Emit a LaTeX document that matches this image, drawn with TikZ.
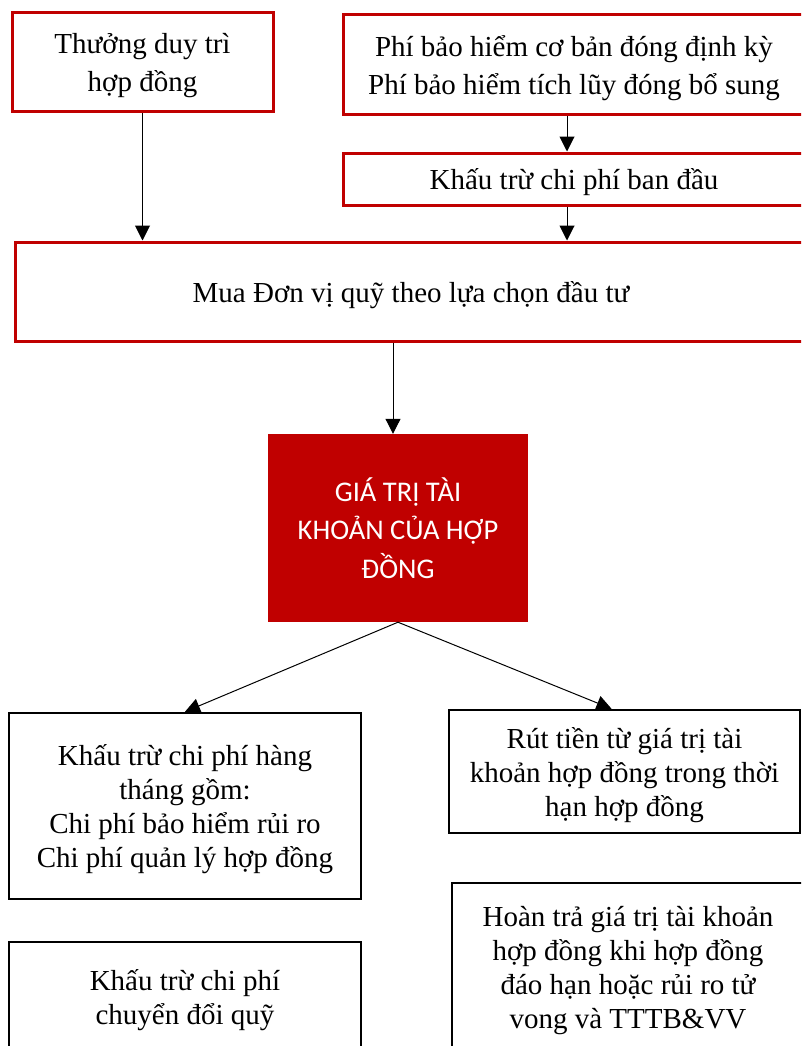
\documentclass[tikz,border=0pt]{standalone}
\usepackage{fontspec}
\setmainfont{Liberation Serif}
\newfontfamily\calibrifont{Carlito}
\usepackage{tikz}
\usetikzlibrary{positioning, arrows.meta}
\usepackage{xcolor}
\definecolor{boxred}{HTML}{C00000}

\begin{document}
\begin{tikzpicture}[
    x=1pt, y=-1pt,
    every node/.style={rectangle,inner sep=0pt,align=center,text depth=0pt,font=\fontsize{29}{37.5}\selectfont},
    redbox/.style={draw=boxred,line width=3pt},
    blackbox/.style={draw=black,line width=2.5pt,font=\fontsize{29}{34}\selectfont},
    acctbox/.style={fill=boxred,text=white,font=\calibrifont\fontsize{28.5}{38.5}\selectfont},
    arr/.style={-{Triangle[length=15pt,width=15pt]},line width=1pt}
]
\useasboundingbox (0,0) rectangle (801,1046);
\clip (0,0) rectangle (801,1046);

% =============================
% 0. Inputs (red boxes)
% =============================
\node[redbox,minimum width=261pt,minimum height=99pt] (bonus) at (142.5,62.5) {Thưởng duy trì\\hợp đồng};
\node[redbox,minimum width=462pt,minimum height=100pt] (premium) at (574,65) {Phí bảo hiểm cơ bản đóng định kỳ\\Phí bảo hiểm tích lũy đóng bổ sung};
\node[redbox,minimum width=462pt,minimum height=52pt] (initfee) at (574,179) {Khấu trừ chi phí ban đầu};
\node[redbox,minimum width=792pt,minimum height=99pt] (units) at (411,291.5) {Mua Đơn vị quỹ theo lựa chọn đầu tư};

\draw[arr] (bonus.south) -- (bonus.south |- units.north);
\draw[arr] ([xshift=-7pt]premium.south) -- ([xshift=-7pt]initfee.north);
\draw[arr] ([xshift=-7pt]initfee.south) -- ([xshift=-7pt]initfee.south |- units.north);

% =============================
% 1. Account value
% =============================
\node[acctbox,minimum width=260pt,minimum height=188pt] (account) at (398,528) {GIÁ TRỊ TÀI\\KHOẢN CỦA HỢP\\ĐỒNG};

\draw[arr] ([xshift=-5pt]account.north |- units.south) -- ([xshift=-5pt]account.north);

% =============================
% 2. Outputs (black boxes)
% =============================
\node[blackbox,minimum width=352pt,minimum height=186pt] (monthly) at (185,806) {Khấu trừ chi phí hàng\\tháng gồm:\\Chi phí bảo hiểm rủi ro\\Chi phí quản lý hợp đồng};
\node[blackbox,minimum width=351pt,minimum height=123pt] (withdraw) at (624.5,771.5) {Rút tiền từ giá trị tài\\khoản hợp đồng trong thời\\hạn hợp đồng};
\node[blackbox,minimum width=352pt,minimum height=109pt] (switchfee) at (185,996.5) {Khấu trừ chi phí\\chuyển đổi quỹ};
\node[blackbox,minimum width=352pt,minimum height=168pt] (refund) at (628,967) {Hoàn trả giá trị tài khoản\\hợp đồng khi hợp đồng\\đáo hạn hoặc rủi ro tử\\vong và TTTB\&VV};

\draw[arr] (account.south) -- (monthly.north);
\draw[arr] (account.south) -- ([xshift=-13pt]withdraw.north);
\end{tikzpicture}
\end{document}
